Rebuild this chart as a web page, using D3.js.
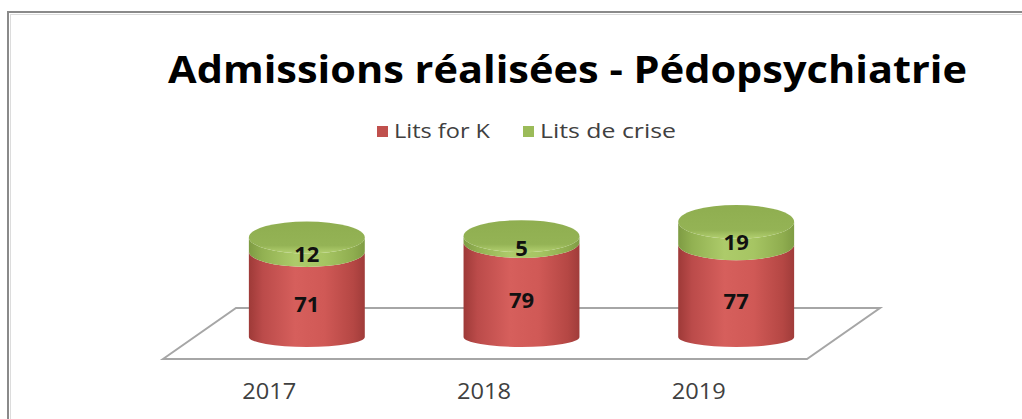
<!DOCTYPE html>
<html>
<head>
<meta charset="utf-8">
<script src="https://cdn.jsdelivr.net/npm/d3@7"></script>
<style>
  body { margin: 0; background: #fff; }
  svg { display: block; }
</style>
</head>
<body>
<div id="chart"></div>
<script>
const years = ['2017', '2018', '2019'];
const litsForK = [71, 79, 77];
const litsDeCrise = [12, 5, 19];
const seriesNames = ['Lits for K', 'Lits de crise'];
const seriesColors = ['#c0504d', '#9bbb59'];

const W = 1022, H = 419;

// floor (front edge + depth offset)
const floor = {left: 163, right: 807, front: 359, dx: 73, dy: -51};

const svg = d3.select('#chart').append('svg')
  .attr('width', W)
  .attr('height', H);

const defs = svg.append('defs');

function sideGradient(id, stops) {
  let g = defs.append('linearGradient').attr('id', id)
    .attr('x1', '0%').attr('x2', '100%').attr('y1', '0%').attr('y2', '0%');
  stops.forEach(function(s) {
    g.append('stop').attr('offset', s[0]).attr('stop-color', s[1]);
  });
}
sideGradient('redSide', [['0%', '#9e3a38'], ['12%', '#bb4b4a'], ['40%', '#d65f5c'], ['65%', '#d05956'], ['90%', '#b54744'], ['100%', '#a03c3a']]);
sideGradient('greenSide', [['0%', '#7e9b43'], ['12%', '#92b152'], ['40%', '#adcb6a'], ['65%', '#a6c563'], ['90%', '#8fad4f'], ['100%', '#7f9c44']]);
let tg = defs.append('linearGradient').attr('id', 'greenTop')
  .attr('x1', '0%').attr('x2', '0%').attr('y1', '0%').attr('y2', '100%');
tg.append('stop').attr('offset', '0%').attr('stop-color', '#8fae50');
tg.append('stop').attr('offset', '75%').attr('stop-color', '#94b355');
tg.append('stop').attr('offset', '100%').attr('stop-color', '#b3d070');

// frame
svg.append('rect')
  .attr('x', 8).attr('y', 12)
  .attr('width', W).attr('height', H)
  .attr('fill', 'none')
  .attr('stroke', '#8a8a8a')
  .attr('stroke-width', 2);
svg.append('rect')
  .attr('x', 10.5).attr('y', 14.5)
  .attr('width', W).attr('height', H)
  .attr('fill', 'none')
  .attr('stroke', '#dcdcdc')
  .attr('stroke-width', 1);

// title (stretched to match the wide original)
svg.append('text')
  .attr('x', 168)
  .attr('y', 83)
  .attr('font-family', 'Open Sans, sans-serif')
  .attr('font-weight', 'bold')
  .attr('font-size', 38)
  .attr('textLength', 799)
  .attr('lengthAdjust', 'spacingAndGlyphs')
  .attr('fill', '#000')
  .text('Admissions réalisées - Pédopsychiatrie');

// legend
const legendX = [377, 523];
const legendLen = [96, 136];
seriesNames.forEach(function(name, i) {
  svg.append('rect')
    .attr('x', legendX[i]).attr('y', 126)
    .attr('width', 11).attr('height', 11)
    .attr('fill', seriesColors[i]);
  svg.append('text')
    .attr('x', legendX[i] + 17)
    .attr('y', 138)
    .attr('font-family', 'Open Sans, sans-serif')
    .attr('font-size', 20)
    .attr('textLength', legendLen[i])
    .attr('lengthAdjust', 'spacingAndGlyphs')
    .attr('fill', '#404040')
    .text(name);
});

// scales
const x = d3.scaleBand()
  .domain(years)
  .range([floor.left, floor.right]);

const y = d3.scaleLinear()
  .domain([0, 100])
  .range([0, 120]);

// floor
svg.append('path')
  .attr('d', 'M' + floor.left + ',' + floor.front +
    'L' + (floor.left + floor.dx) + ',' + (floor.front + floor.dy) +
    'L' + (floor.right + floor.dx) + ',' + (floor.front + floor.dy) +
    'L' + floor.right + ',' + floor.front + 'Z')
  .attr('fill', '#fff')
  .attr('stroke', '#a6a6a6')
  .attr('stroke-width', 2);

// x labels
svg.append('g')
  .selectAll('text')
  .data(years)
  .enter()
  .append('text')
  .attr('x', function(d) { return x(d) + x.bandwidth() / 2 - 1; })
  .attr('y', 399)
  .attr('text-anchor', 'middle')
  .attr('font-family', 'Open Sans, sans-serif')
  .attr('font-size', 21)
  .attr('textLength', 54)
  .attr('lengthAdjust', 'spacingAndGlyphs')
  .attr('fill', '#404040')
  .text(function(d) { return d; });

// cylinders
const rx = x.bandwidth() * 0.27;
const baseY = 337;
function ry(h) {
  return 10 + h * 0.06;
}

function sidePath(cx, h0, h1) {
  let y0 = baseY - h0, y1 = baseY - h1;
  let r0 = ry(h0), r1 = ry(h1);
  return 'M' + (cx - rx) + ',' + y1 +
    'L' + (cx - rx) + ',' + y0 +
    'A' + rx + ',' + r0 + ' 0 0 0 ' + (cx + rx) + ',' + y0 +
    'L' + (cx + rx) + ',' + y1 +
    'A' + rx + ',' + r1 + ' 0 0 1 ' + (cx - rx) + ',' + y1 + 'Z';
}

const bars = years.map(function(d, i) {
  return {year: d, k: litsForK[i], c: litsDeCrise[i]};
});

let cyl = svg.append('g')
  .selectAll('g')
  .data(bars)
  .enter()
  .append('g');

cyl.each(function(d) {
  let g = d3.select(this);
  let cx = x(d.year) + x.bandwidth() / 2 + floor.dx / 2;
  let hK = y(d.k), hT = y(d.k + d.c);

  g.append('path')
    .attr('d', sidePath(cx, 0, hK))
    .attr('fill', 'url(#redSide)');
  g.append('path')
    .attr('d', sidePath(cx, hK, hT))
    .attr('fill', 'url(#greenSide)');
  g.append('ellipse')
    .attr('cx', cx)
    .attr('cy', baseY - hT)
    .attr('rx', rx)
    .attr('ry', ry(hT))
    .attr('fill', 'url(#greenTop)');

  g.append('text')
    .attr('x', cx)
    .attr('y', baseY - (hK + hT) / 2 + 17)
    .attr('text-anchor', 'middle')
    .attr('font-family', 'Open Sans, sans-serif')
    .attr('font-weight', 'bold')
    .attr('font-size', 22)
    .attr('fill', '#111')
    .text(d.c);
  g.append('text')
    .attr('x', cx)
    .attr('y', baseY - hK / 2 + 18)
    .attr('text-anchor', 'middle')
    .attr('font-family', 'Open Sans, sans-serif')
    .attr('font-weight', 'bold')
    .attr('font-size', 22)
    .attr('fill', '#111')
    .text(d.k);
});
</script>
</body>
</html>
